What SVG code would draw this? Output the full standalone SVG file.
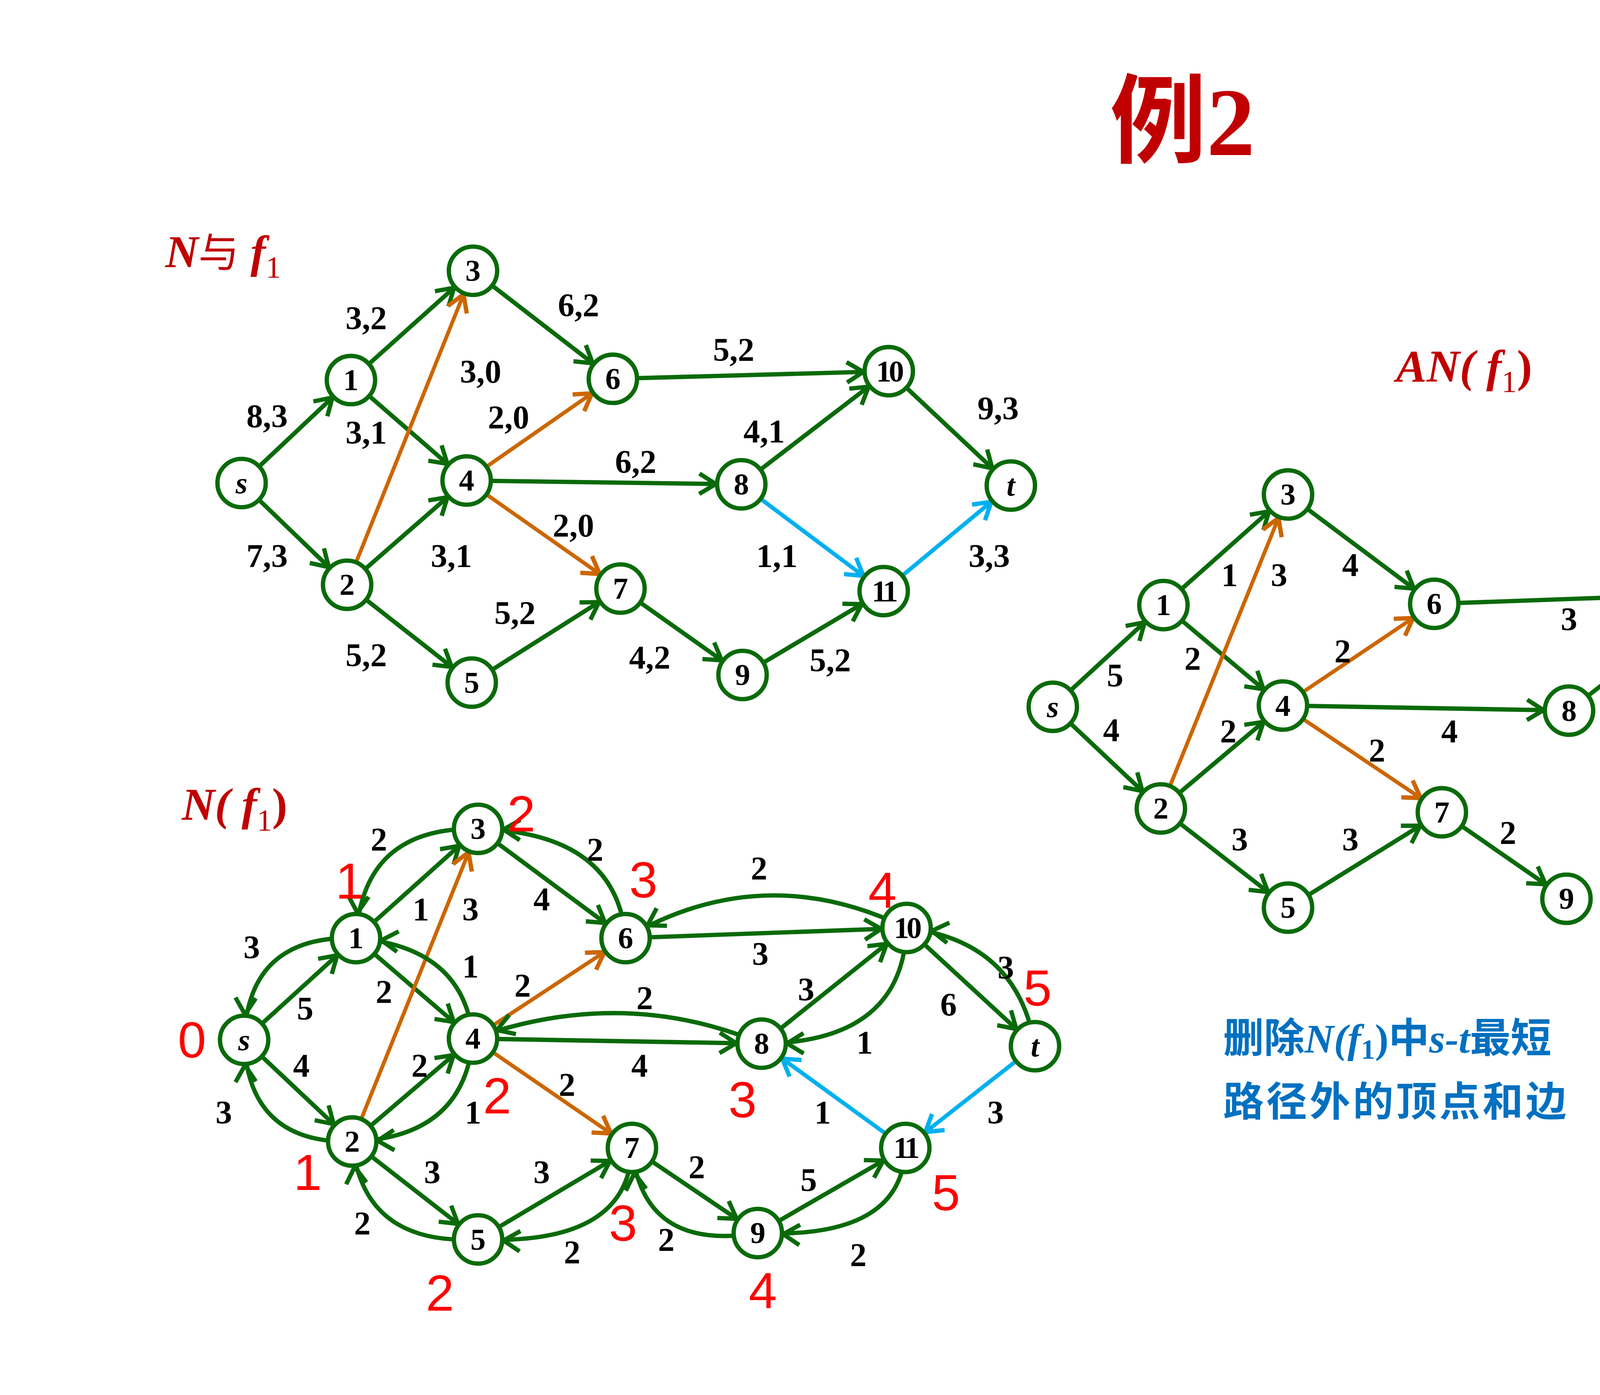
<svg xmlns="http://www.w3.org/2000/svg" width="5052" height="3572" viewBox="0 0 5052 3572">
<style>
.e{fill:none;stroke:#0a6a0a;stroke-width:3.4;marker-end:url(#mg)}
.o{fill:none;stroke:#cc6600;stroke-width:3;marker-end:url(#mo)}
.b{fill:none;stroke:#00b0f0;stroke-width:3.2;marker-end:url(#mb)}
.n circle{fill:#fff;stroke:#0a6a0a;stroke-width:3.4}
.n text{font-family:"Liberation Serif",serif;font-weight:bold;font-size:24px;text-anchor:middle;fill:#000}
.l text{font-family:"Liberation Serif",serif;font-weight:bold;font-size:26px;text-anchor:middle;fill:#000}
.r text{font-family:"Liberation Sans",sans-serif;font-size:40px;text-anchor:middle;fill:#ff0000}
.h{font-family:"Liberation Serif","Noto Sans CJK SC",serif;font-weight:bold;font-style:italic;fill:#c00000;font-size:36px}
</style>
<defs>
<marker id="mg" markerUnits="userSpaceOnUse" markerWidth="60" markerHeight="60" viewBox="-40 -20 60 40" refX="0" refY="0" orient="auto"><path d="M-33,-8 L-20,0 L-33,8" fill="none" stroke="#0a6a0a" stroke-width="3.4"/></marker>
<marker id="mo" markerUnits="userSpaceOnUse" markerWidth="60" markerHeight="60" viewBox="-40 -20 60 40" refX="0" refY="0" orient="auto"><path d="M-33,-8 L-20,0 L-33,8" fill="none" stroke="#cc6600" stroke-width="3.4"/></marker>
<marker id="mb" markerUnits="userSpaceOnUse" markerWidth="60" markerHeight="60" viewBox="-40 -20 60 40" refX="0" refY="0" orient="auto"><path d="M-33,-8 L-20,0 L-33,8" fill="none" stroke="#00b0f0" stroke-width="3.4"/></marker>
</defs>
<rect width="5052" height="3572" fill="#fff"/>
<g transform="scale(3.255)">
<text x="930" y="122" text-anchor="middle" font-family="Liberation Serif,Noto Sans CJK SC,serif" font-weight="bold" font-size="76" fill="#c00000"><tspan font-family="Noto Sans CJK SC,sans-serif">例</tspan>2</text>
<text class="h" x="130" y="210">N<tspan font-style="normal" font-family="Noto Sans CJK SC,sans-serif" font-weight="normal" font-size="32">与</tspan> f<tspan font-style="normal" font-weight="normal" font-size="24" dy="8">1</tspan></text>
<text class="h" x="143" y="645">N(<tspan> f</tspan><tspan font-style="normal" font-weight="normal" font-size="24" dy="8">1</tspan><tspan dy="-8" font-style="normal">)</tspan></text>
<text class="h" x="1098" y="300">AN(<tspan> f</tspan><tspan font-style="normal" font-weight="normal" font-size="24" dy="8">1</tspan><tspan dy="-8" font-style="normal">)</tspan></text>
<g font-family="Noto Sans CJK SC,sans-serif" font-size="32" fill="#0070c0" font-weight="bold">
<text x="962" y="828">删除<tspan font-family="Liberation Serif,serif" font-style="italic">N(f</tspan><tspan font-family="Liberation Serif,serif" font-size="22" dy="5">1</tspan><tspan font-family="Liberation Serif,serif" dy="-5">)</tspan>中<tspan font-family="Liberation Serif,serif" font-style="italic">s-t</tspan>最短</text>
<text x="962" y="878" letter-spacing="2">路径外的顶点和边</text>
</g>

<g id="connectors">
<line class="e" x1="190" y1="380" x2="276" y2="299"/>
<line class="e" x1="190" y1="380" x2="273" y2="460"/>
<line class="e" x1="276" y1="299" x2="372" y2="213"/>
<line class="e" x1="276" y1="299" x2="367" y2="378"/>
<line class="o" x1="273" y1="460" x2="372" y2="213"/>
<line class="e" x1="273" y1="460" x2="367" y2="378"/>
<line class="e" x1="273" y1="460" x2="371" y2="537"/>
<line class="e" x1="372" y1="213" x2="482" y2="298"/>
<line class="o" x1="367" y1="378" x2="482" y2="298"/>
<line class="e" x1="367" y1="378" x2="583" y2="381"/>
<line class="o" x1="367" y1="378" x2="488" y2="463"/>
<line class="e" x1="371" y1="537" x2="488" y2="463"/>
<line class="e" x1="482" y1="298" x2="699" y2="292"/>
<line class="e" x1="583" y1="381" x2="699" y2="292"/>
<line class="b" x1="583" y1="381" x2="695" y2="465"/>
<line class="e" x1="488" y1="463" x2="584" y2="531"/>
<line class="e" x1="584" y1="531" x2="695" y2="465"/>
<line class="e" x1="699" y1="292" x2="795" y2="382"/>
<line class="b" x1="695" y1="465" x2="795" y2="382"/>
<line class="e" x1="192" y1="818" x2="280" y2="738"/>
<line class="e" x1="192" y1="818" x2="277" y2="898"/>
<line class="e" x1="280" y1="738" x2="376" y2="652"/>
<line class="e" x1="280" y1="738" x2="372" y2="817"/>
<line class="o" x1="277" y1="898" x2="376" y2="652"/>
<line class="e" x1="277" y1="898" x2="372" y2="817"/>
<line class="e" x1="277" y1="898" x2="376" y2="975"/>
<line class="e" x1="376" y1="652" x2="492" y2="738"/>
<line class="o" x1="372" y1="817" x2="492" y2="738"/>
<line class="o" x1="372" y1="817" x2="497" y2="903"/>
<line class="e" x1="372" y1="817" x2="599" y2="821"/>
<line class="e" x1="376" y1="975" x2="497" y2="903"/>
<line class="e" x1="497" y1="903" x2="596" y2="970"/>
<line class="e" x1="596" y1="970" x2="712" y2="903"/>
<line class="e" x1="492" y1="738" x2="713" y2="730"/>
<line class="e" x1="599" y1="821" x2="713" y2="730"/>
<line class="e" x1="713" y1="730" x2="814" y2="823"/>
<line class="b" x1="712" y1="903" x2="599" y2="821"/>
<line class="b" x1="814" y1="823" x2="712" y2="903"/>
<path class="e" d="M280,738 Q195,735 192,818"/>
<path class="e" d="M277,898 Q195,900 192,818"/>
<path class="e" d="M376,652 Q285,650 280,738"/>
<path class="e" d="M492,738 Q485,655 376,652"/>
<path class="e" d="M372,817 Q365,745 280,738"/>
<path class="e" d="M372,817 Q365,895 277,898"/>
<path class="e" d="M376,975 Q285,980 277,898"/>
<path class="e" d="M497,903 Q495,980 376,975"/>
<path class="e" d="M596,970 Q505,985 497,903"/>
<path class="e" d="M712,903 Q710,975 596,970"/>
<path class="e" d="M713,730 Q600,675 492,738"/>
<path class="e" d="M599,821 Q490,775 372,817"/>
<path class="e" d="M713,730 Q710,820 599,821"/>
<path class="e" d="M814,823 Q800,740 713,730"/>
<line class="e" x1="828" y1="556" x2="915" y2="476"/>
<line class="e" x1="828" y1="556" x2="913" y2="636"/>
<line class="e" x1="915" y1="476" x2="1013" y2="389"/>
<line class="e" x1="915" y1="476" x2="1009" y2="555"/>
<line class="o" x1="913" y1="636" x2="1013" y2="389"/>
<line class="e" x1="913" y1="636" x2="1009" y2="555"/>
<line class="e" x1="913" y1="636" x2="1013" y2="714"/>
<line class="e" x1="1013" y1="389" x2="1128" y2="475"/>
<line class="o" x1="1009" y1="555" x2="1128" y2="475"/>
<line class="e" x1="1009" y1="555" x2="1234" y2="559"/>
<line class="o" x1="1009" y1="555" x2="1134" y2="639"/>
<line class="e" x1="1013" y1="714" x2="1134" y2="639"/>
<line class="e" x1="1128" y1="475" x2="1352" y2="467"/>
<line class="e" x1="1234" y1="559" x2="1352" y2="467"/>
<line class="e" x1="1352" y1="467" x2="1450" y2="560"/>
<line class="e" x1="1134" y1="639" x2="1232" y2="707"/>
</g>

<g class="l">
<text x="210" y="336">8,3</text><text x="210" y="446">7,3</text><text x="288" y="259">3,2</text><text x="288" y="349">3,1</text>
<text x="378" y="301">3,0</text><text x="355" y="446">3,1</text><text x="288" y="524">5,2</text><text x="455" y="249">6,2</text>
<text x="400" y="337">2,0</text><text x="500" y="372">6,2</text><text x="451" y="422">2,0</text><text x="405" y="491">5,2</text>
<text x="577" y="284">5,2</text><text x="601" y="348">4,1</text><text x="611" y="446">1,1</text><text x="511" y="526">4,2</text>
<text x="653" y="528">5,2</text><text x="785" y="330">9,3</text><text x="778" y="446">3,3</text>
<text x="240" y="802">5</text><text x="237" y="847">4</text><text x="331" y="724">1</text><text x="370" y="724">3</text>
<text x="302" y="789">2</text><text x="330" y="847">2</text><text x="340" y="931">3</text><text x="426" y="716">4</text>
<text x="411" y="784">2</text><text x="446" y="862">2</text><text x="426" y="931">3</text><text x="548" y="927">2</text>
<text x="636" y="937">5</text><text x="598" y="759">3</text><text x="503" y="847">4</text><text x="634" y="787">3</text>
<text x="746" y="799">6</text><text x="647" y="884">1</text><text x="783" y="884">3</text>
<text x="198" y="754">3</text><text x="176" y="884">3</text><text x="298" y="669">2</text><text x="468" y="677">2</text>
<text x="370" y="769">1</text><text x="372" y="884">1</text><text x="285" y="971">2</text><text x="450" y="994">2</text>
<text x="524" y="984">2</text><text x="675" y="996">2</text><text x="597" y="692">2</text><text x="507" y="794">2</text>
<text x="680" y="829">1</text><text x="791" y="770">3</text>
<text x="877" y="540">5</text><text x="874" y="583">4</text><text x="967" y="461">1</text><text x="1006" y="461">3</text>
<text x="938" y="527">2</text><text x="966" y="584">2</text><text x="975" y="669">3</text><text x="1062" y="453">4</text>
<text x="1056" y="521">2</text><text x="1140" y="584">4</text><text x="1083" y="599">2</text><text x="1062" y="669">3</text>
<text x="1234" y="496">3</text><text x="1270" y="524">3</text><text x="1383" y="537">6</text><text x="1186" y="664">2</text>
</g>

<g class="r">
<text x="151" y="832">0</text><text x="275" y="707">1</text><text x="410" y="654">2</text><text x="506" y="706">3</text>
<text x="694" y="714">4</text><text x="816" y="791">5</text><text x="391" y="876">2</text><text x="584" y="879">3</text>
<text x="242" y="936">1</text><text x="346" y="1031">2</text><text x="490" y="976">3</text><text x="600" y="1029">4</text><text x="744" y="952">5</text>
</g>

<g class="n" id="A_s"><circle cx="190" cy="380" r="19"/><text x="190" y="388" font-style="italic">s</text></g>
<g class="n" id="A_1"><circle cx="276" cy="299" r="19"/><text x="276" y="307">1</text></g>
<g class="n" id="A_2"><circle cx="273" cy="460" r="19"/><text x="273" y="468">2</text></g>
<g class="n" id="A_3"><circle cx="372" cy="213" r="19"/><text x="372" y="221">3</text></g>
<g class="n" id="A_4"><circle cx="367" cy="378" r="19"/><text x="367" y="386">4</text></g>
<g class="n" id="A_5"><circle cx="371" cy="537" r="19"/><text x="371" y="545">5</text></g>
<g class="n" id="A_6"><circle cx="482" cy="298" r="19"/><text x="482" y="306">6</text></g>
<g class="n" id="A_7"><circle cx="488" cy="463" r="19"/><text x="488" y="471">7</text></g>
<g class="n" id="A_8"><circle cx="583" cy="381" r="19"/><text x="583" y="389">8</text></g>
<g class="n" id="A_9"><circle cx="584" cy="531" r="19"/><text x="584" y="539">9</text></g>
<g class="n" id="A_10"><circle cx="699" cy="292" r="19"/><text x="699" y="300" letter-spacing="-2">10</text></g>
<g class="n" id="A_11"><circle cx="695" cy="465" r="19"/><text x="695" y="473" letter-spacing="-2">11</text></g>
<g class="n" id="A_t"><circle cx="795" cy="382" r="19"/><text x="795" y="390" font-style="italic">t</text></g>

<g class="n" id="B_s"><circle cx="192" cy="818" r="19"/><text x="192" y="826" font-style="italic">s</text></g>
<g class="n" id="B_1"><circle cx="280" cy="738" r="19"/><text x="280" y="746">1</text></g>
<g class="n" id="B_2"><circle cx="277" cy="898" r="19"/><text x="277" y="906">2</text></g>
<g class="n" id="B_3"><circle cx="376" cy="652" r="19"/><text x="376" y="660">3</text></g>
<g class="n" id="B_4"><circle cx="372" cy="817" r="19"/><text x="372" y="825">4</text></g>
<g class="n" id="B_5"><circle cx="376" cy="975" r="19"/><text x="376" y="983">5</text></g>
<g class="n" id="B_6"><circle cx="492" cy="738" r="19"/><text x="492" y="746">6</text></g>
<g class="n" id="B_7"><circle cx="497" cy="903" r="19"/><text x="497" y="911">7</text></g>
<g class="n" id="B_8"><circle cx="599" cy="821" r="19"/><text x="599" y="829">8</text></g>
<g class="n" id="B_9"><circle cx="596" cy="970" r="19"/><text x="596" y="978">9</text></g>
<g class="n" id="B_10"><circle cx="713" cy="730" r="19"/><text x="713" y="738" letter-spacing="-2">10</text></g>
<g class="n" id="B_11"><circle cx="712" cy="903" r="19"/><text x="712" y="911" letter-spacing="-2">11</text></g>
<g class="n" id="B_t"><circle cx="814" cy="823" r="19"/><text x="814" y="831" font-style="italic">t</text></g>

<g class="n" id="C_s"><circle cx="828" cy="556" r="19"/><text x="828" y="564" font-style="italic">s</text></g>
<g class="n" id="C_1"><circle cx="915" cy="476" r="19"/><text x="915" y="484">1</text></g>
<g class="n" id="C_2"><circle cx="913" cy="636" r="19"/><text x="913" y="644">2</text></g>
<g class="n" id="C_3"><circle cx="1013" cy="389" r="19"/><text x="1013" y="397">3</text></g>
<g class="n" id="C_4"><circle cx="1009" cy="555" r="19"/><text x="1009" y="563">4</text></g>
<g class="n" id="C_5"><circle cx="1013" cy="714" r="19"/><text x="1013" y="722">5</text></g>
<g class="n" id="C_6"><circle cx="1128" cy="475" r="19"/><text x="1128" y="483">6</text></g>
<g class="n" id="C_7"><circle cx="1134" cy="639" r="19"/><text x="1134" y="647">7</text></g>
<g class="n" id="C_8"><circle cx="1234" cy="559" r="19"/><text x="1234" y="567">8</text></g>
<g class="n" id="C_9"><circle cx="1232" cy="707" r="19"/><text x="1232" y="715">9</text></g>
<g class="n" id="C_10"><circle cx="1352" cy="467" r="19"/><text x="1352" y="475" letter-spacing="-2">10</text></g>
<g class="n" id="C_t"><circle cx="1450" cy="560" r="19"/><text x="1450" y="568" font-style="italic">t</text></g>
</g>
</svg>
